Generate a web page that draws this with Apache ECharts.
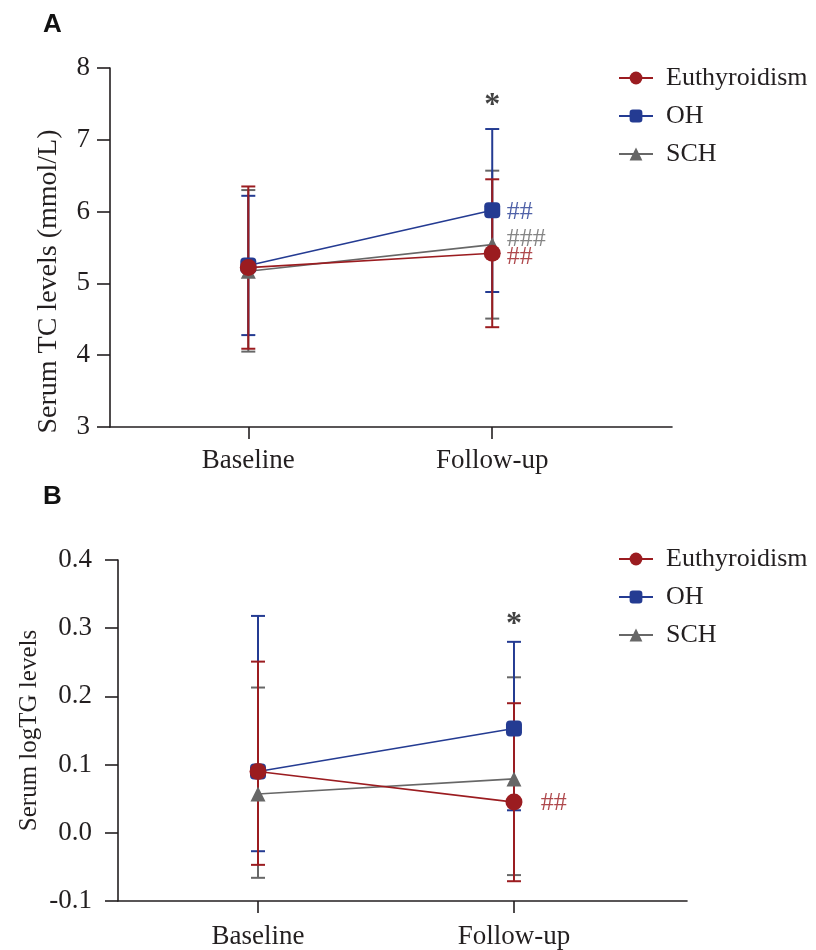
<!DOCTYPE html>
<html>
<head>
<meta charset="utf-8">
<script src="https://cdn.jsdelivr.net/npm/echarts@6/dist/echarts.min.js"></script>
<style>
  html, body { margin: 0; padding: 0; background: #fff; }
  #chart { width: 816px; height: 950px; }
</style>
</head>
<body>
<div id="chart"></div>
<script>
// categories and groups
var categories = ['Baseline', 'Follow-up'];
var groups = ['Euthyroidism', 'OH', 'SCH'];

// panel A: serum TC (mmol/L), mean and error-bar ends
var tcEuthMean = [5.22, 5.42];
var tcEuthLow  = [4.09, 4.39];
var tcEuthHigh = [6.35, 6.45];
var tcOHMean   = [5.25, 6.02];
var tcOHLow    = [4.28, 4.88];
var tcOHHigh   = [6.22, 7.15];
var tcSCHMean  = [5.17, 5.54];
var tcSCHLow   = [4.05, 4.51];
var tcSCHHigh  = [6.30, 6.57];

// panel B: serum logTG
var tgEuthMean = [0.090, 0.045];
var tgEuthLow  = [-0.047, -0.071];
var tgEuthHigh = [0.251, 0.190];
var tgOHMean   = [0.090, 0.153];
var tgOHLow    = [-0.027, 0.033];
var tgOHHigh   = [0.318, 0.280];
var tgSCHMean  = [0.057, 0.079];
var tgSCHLow   = [-0.066, -0.062];
var tgSCHHigh  = [0.213, 0.228];

// significance marks: [x, y, text, group]
var annoA = [[1, 7.47, '*', 'star'], [1.06, 5.99, '##', 'OH'], [1.06, 5.62, '###', 'SCH'], [1.06, 5.36, '##', 'Euthyroidism']];
var annoB = [[1, 0.305, '*', 'star'], [1.105, 0.043, '##', 'Euthyroidism']];

var colors = { 'Euthyroidism': '#9b1c20', 'OH': '#243b92', 'SCH': '#676767', 'star': '#111111' };
var symbols = { 'Euthyroidism': 'circle', 'OH': 'roundRect', 'SCH': 'triangle' };
var symbolSizes = { 'Euthyroidism': 17, 'OH': 16, 'SCH': 15 };
var serif = '"Liberation Serif", "DejaVu Serif", serif';

function pts(vals) {
	return vals.map(function (v, i) { return [i, v]; });
}
function bars(low, high) {
	return low.map(function (v, i) { return [i, v, high[i]]; });
}

function errorSeries(name, data, idx) {
	return {
		type: 'custom',
		name: name + ' SD',
		xAxisIndex: idx,
		yAxisIndex: idx,
		data: data,
		encode: { x: 0, y: [1, 2] },
		silent: true,
		renderItem: function (params, api) {
			var lo = api.coord([api.value(0), api.value(1)]);
			var hi = api.coord([api.value(0), api.value(2)]);
			var w = 7;
			var st = { stroke: colors[name], lineWidth: 2 };
			return {
				type: 'group',
				children: [
					{ type: 'line', shape: { x1: lo[0], y1: lo[1], x2: hi[0], y2: hi[1] }, style: st },
					{ type: 'line', shape: { x1: lo[0] - w, y1: lo[1], x2: lo[0] + w, y2: lo[1] }, style: st },
					{ type: 'line', shape: { x1: hi[0] - w, y1: hi[1], x2: hi[0] + w, y2: hi[1] }, style: st }
				]
			};
		}
	};
}

function meanSeries(name, data, idx) {
	return {
		type: 'line',
		name: name,
		xAxisIndex: idx,
		yAxisIndex: idx,
		data: data,
		symbol: symbols[name],
		symbolSize: symbolSizes[name],
		lineStyle: { color: colors[name], width: 1.6 },
		itemStyle: { color: colors[name] },
		emphasis: { disabled: true }
	};
}

function annoSeries(data, idx) {
	return {
		type: 'scatter',
		xAxisIndex: idx,
		yAxisIndex: idx,
		symbolSize: 0,
		silent: true,
		data: data.map(function (a) {
			var star = a[3] === 'star';
			return {
				value: [a[0], a[1]],
				label: {
					show: true,
					position: 'inside',
					formatter: a[2],
					align: star ? 'center' : 'left',
					verticalAlign: 'middle',
					color: colors[a[3]],
					fontFamily: serif,
					fontWeight: star ? 'bold' : 'normal',
					fontSize: star ? 32 : 26
				}
			};
		})
	};
}

function xAxisFor(idx, min, max, margin) {
	return {
		gridIndex: idx,
		type: 'value',
		min: min,
		max: max,
		splitLine: { show: false },
		axisLine: { onZero: false, lineStyle: { color: '#231f20', width: 1.6 } },
		axisTick: { customValues: [0, 1], length: 12, lineStyle: { color: '#231f20', width: 1.6 } },
		axisLabel: {
			customValues: [0, 1],
			margin: margin,
			color: '#231f20',
			fontFamily: serif,
			fontSize: 27,
			formatter: function (v) { return categories[Math.round(v)]; }
		}
	};
}

function yAxisFor(idx, min, max, interval, name, nameGap, nameSize, namePad, margin, digits) {
	return {
		gridIndex: idx,
		type: 'value',
		min: min,
		max: max,
		interval: interval,
		name: name,
		nameLocation: 'middle',
		nameGap: nameGap,
		nameMoveOverlap: false,
		nameTextStyle: { color: '#231f20', fontFamily: serif, fontSize: nameSize, padding: namePad },
		splitLine: { show: false },
		axisLine: { show: true, onZero: false, lineStyle: { color: '#231f20', width: 1.6 } },
		axisTick: { show: true, length: 13, lineStyle: { color: '#231f20', width: 1.6 } },
		axisLabel: {
			margin: margin,
			color: '#231f20',
			fontFamily: serif,
			fontSize: 27,
			formatter: function (v) { return v.toFixed(digits); }
		}
	};
}

function legendFor(top) {
	return {
		data: groups,
		orient: 'vertical',
		left: 613,
		top: top,
		itemGap: 12,
		itemWidth: 34,
		itemHeight: 16,
		textStyle: { color: '#231f20', fontFamily: serif, fontSize: 26, padding: [0, 0, 0, 8] }
	};
}

var chart = echarts.init(document.getElementById('chart'), null, { renderer: 'canvas' });

var option = {
	animation: false,
	color: [colors.Euthyroidism, colors.OH, colors.SCH],
	title: [
		{ text: 'A', left: 38, top: 7, textStyle: { fontFamily: '"Liberation Sans", Arial, sans-serif', fontWeight: 'bold', fontSize: 26, color: '#111' } },
		{ text: 'B', left: 38, top: 479, textStyle: { fontFamily: '"Liberation Sans", Arial, sans-serif', fontWeight: 'bold', fontSize: 26, color: '#111' } }
	],
	legend: [legendFor(60), legendFor(541)],
	grid: [
		{ left: 110, top: 68, width: 562, height: 359 },
		{ left: 118, top: 560, width: 569, height: 341 }
	],
	xAxis: [
		xAxisFor(0, -0.567, 1.737, 20),
		xAxisFor(1, -0.547, 1.676, 22)
	],
	yAxis: [
		yAxisFor(0, 3, 8, 1, 'Serum TC levels (mmol/L)', 47, 28, [0, 68, 0, 0], 20, 0),
		yAxisFor(1, -0.1, 0.4, 0.1, 'Serum logTG levels', 76, 25, 0, 26, 1)
	],
	series: [
		errorSeries('SCH', bars(tcSCHLow, tcSCHHigh), 0),
		meanSeries('SCH', pts(tcSCHMean), 0),
		errorSeries('OH', bars(tcOHLow, tcOHHigh), 0),
		meanSeries('OH', pts(tcOHMean), 0),
		errorSeries('Euthyroidism', bars(tcEuthLow, tcEuthHigh), 0),
		meanSeries('Euthyroidism', pts(tcEuthMean), 0),
		annoSeries(annoA, 0),

		errorSeries('SCH', bars(tgSCHLow, tgSCHHigh), 1),
		meanSeries('SCH', pts(tgSCHMean), 1),
		errorSeries('OH', bars(tgOHLow, tgOHHigh), 1),
		meanSeries('OH', pts(tgOHMean), 1),
		errorSeries('Euthyroidism', bars(tgEuthLow, tgEuthHigh), 1),
		meanSeries('Euthyroidism', pts(tgEuthMean), 1),
		annoSeries(annoB, 1)
	]
};

chart.setOption(option);
</script>
</body>
</html>
